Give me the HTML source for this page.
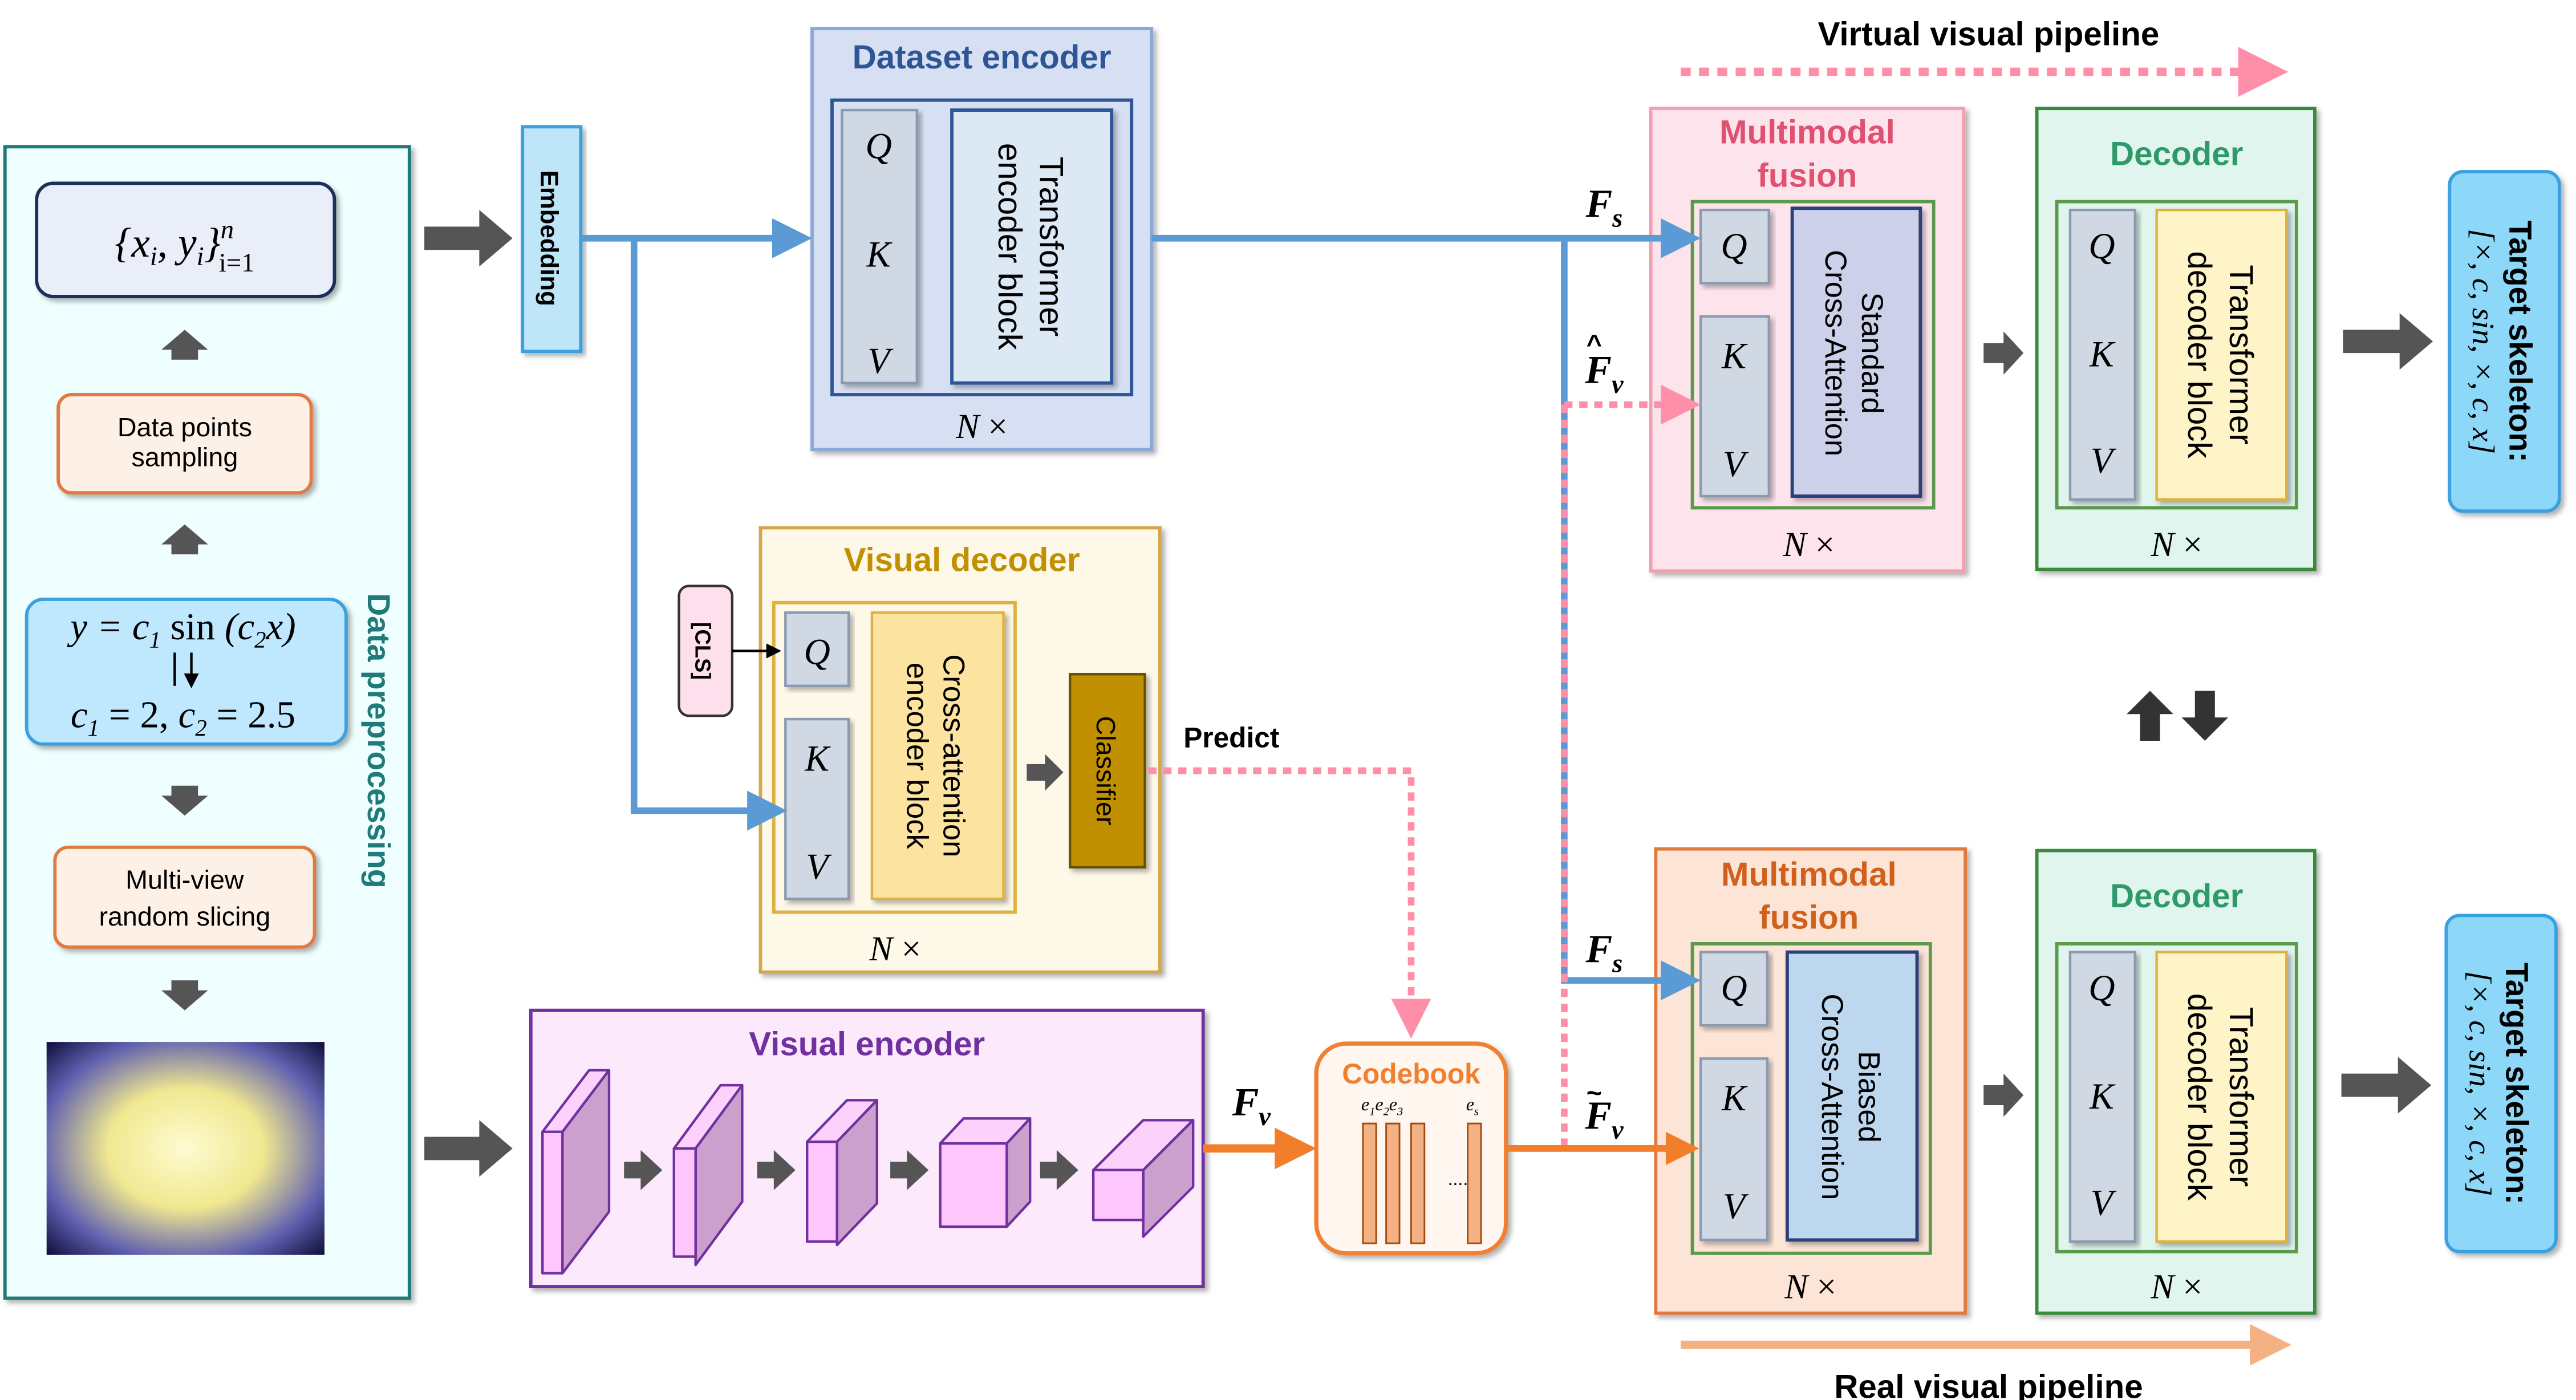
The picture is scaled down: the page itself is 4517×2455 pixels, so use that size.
<!DOCTYPE html>
<html><head><meta charset="utf-8"><style>
html,body{margin:0;padding:0;background:#fff;width:4517px;height:2455px;overflow:hidden}
svg{display:block}
text{font-family:"Liberation Sans",sans-serif}
.b{font-weight:bold}
.m{font-family:"Liberation Serif",serif;font-style:italic}
</style></head><body>
<svg width="4517" height="2455" viewBox="0 0 1548 841" xmlns="http://www.w3.org/2000/svg">
<defs>
<marker id="ab" markerWidth="6" markerHeight="6" refX="5" refY="3" orient="auto" markerUnits="strokeWidth"><path d="M0,0 L6,3 L0,6z" fill="#5b9bd5"/></marker>
<marker id="ap" markerWidth="6" markerHeight="6" refX="5" refY="3" orient="auto" markerUnits="strokeWidth"><path d="M0,0 L6,3 L0,6z" fill="#ff8fa8"/></marker>
<marker id="ao" markerWidth="5" markerHeight="5" refX="4" refY="2.5" orient="auto" markerUnits="strokeWidth"><path d="M0,0 L5,2.5 L0,5z" fill="#f07e2a"/></marker>
<marker id="as" markerWidth="5" markerHeight="5" refX="4" refY="2.5" orient="auto" markerUnits="strokeWidth"><path d="M0,0 L5,2.5 L0,5z" fill="#f4b183"/></marker>
<marker id="ak" markerWidth="6" markerHeight="6" refX="5" refY="3" orient="auto" markerUnits="strokeWidth"><path d="M0,0 L6,3 L0,6z" fill="#000"/></marker>
<radialGradient id="img" cx="50%" cy="50%" r="70%"><stop offset="0" stop-color="#fffbd0"/><stop offset="0.4" stop-color="#f0e890"/><stop offset="0.75" stop-color="#6060b0"/><stop offset="1" stop-color="#101040"/></radialGradient>
<filter id="sh"><feDropShadow dx="2" dy="2" stdDeviation="1.5" flood-opacity="0.3"/></filter>
</defs>

<!-- Data preprocessing -->
<rect x="3" y="88" width="243" height="692" fill="#effefe" stroke="#1f7a78" stroke-width="2" filter="url(#sh)"/>
<rect x="22" y="110" width="179" height="68" rx="10" fill="#e9eef8" stroke="#1f2f5a" stroke-width="2" filter="url(#sh)"/>
<text x="111" y="154" font-size="25" text-anchor="middle" class="m">{x<tspan font-size="16" dy="5">i</tspan><tspan dy="-5">, y</tspan><tspan font-size="16" dy="5">i</tspan><tspan dy="-5">}</tspan><tspan font-size="16" dy="-11">n</tspan><tspan font-size="16" dx="-9" dy="20" font-style="normal">i=1</tspan></text>
<path d="M103,216 v-6 h-6 l14,-12 l14,12 h-6 v6z" fill="#555"/>
<rect x="35" y="237" width="152" height="59" rx="8" fill="#fdf0e6" stroke="#e07a40" stroke-width="2" filter="url(#sh)"/>
<text x="111" y="262" font-size="16" text-anchor="middle">Data points</text>
<text x="111" y="280" font-size="16" text-anchor="middle">sampling</text>
<path d="M103,333 v-6 h-6 l14,-12 l14,12 h-6 v6z" fill="#555"/>
<rect x="16" y="360" width="192" height="87" rx="10" fill="#bfe8ff" stroke="#3aa0e0" stroke-width="2" filter="url(#sh)"/>
<text x="110" y="384" font-size="23" text-anchor="middle" class="m">y = c<tspan font-size="14" dy="5">1</tspan><tspan dy="-5" font-style="normal"> sin </tspan>(c<tspan font-size="14" dy="5">2</tspan><tspan dy="-5">x)</tspan></text>
<path d="M105,392 v20 M115,392 v20" stroke="#000" stroke-width="1.5" marker-end="url(#ak)"/>
<text x="110" y="437" font-size="23" text-anchor="middle" class="m">c<tspan font-size="14" dy="5">1</tspan><tspan dy="-5" font-style="normal"> = 2, </tspan>c<tspan font-size="14" dy="5">2</tspan><tspan dy="-5" font-style="normal"> = 2.5</tspan></text>
<path d="M103,472 v6 h-6 l14,12 l14,-12 h-6 v-6z" fill="#555"/>
<rect x="33" y="509" width="156" height="60" rx="8" fill="#fdf0e6" stroke="#e07a40" stroke-width="2" filter="url(#sh)"/>
<text x="111" y="534" font-size="16" text-anchor="middle">Multi-view</text>
<text x="111" y="556" font-size="16" text-anchor="middle">random slicing</text>
<path d="M103,589 v6 h-6 l14,12 l14,-12 h-6 v-6z" fill="#555"/>
<rect x="28" y="626" width="167" height="128" fill="url(#img)"/>
<text transform="translate(221,445) rotate(90)" font-size="19" text-anchor="middle" class="b" fill="#1f7a78">Data preprocessing</text>

<path d="M255,136 h33 v-10 l20,17 l-20,17 v-10 h-33z" fill="#555"/>
<path d="M255,683 h33 v-10 l20,17 l-20,17 v-10 h-33z" fill="#555"/>

<rect x="314" y="76" width="35" height="135" fill="#bfe6f8" stroke="#3aa0e0" stroke-width="2" filter="url(#sh)"/>
<text transform="translate(325,143) rotate(90)" font-size="15" text-anchor="middle" class="b">Embedding</text>

<!-- Dataset encoder -->
<rect x="488" y="17" width="204" height="253" fill="#d6e0f2" stroke="#8aa8d8" stroke-width="2" filter="url(#sh)"/>
<text x="590" y="41" font-size="20" text-anchor="middle" class="b" fill="#2f5597">Dataset encoder</text>
<rect x="500" y="60" width="180" height="177" fill="none" stroke="#2f5597" stroke-width="2"/>
<rect x="506" y="66" width="45" height="164" fill="#d0d8e4" stroke="#8a9ab0" stroke-width="1.5" filter="url(#sh)"/>
<text x="528" y="95" font-size="22" text-anchor="middle" class="m">Q</text>
<text x="528" y="160" font-size="22" text-anchor="middle" class="m">K</text>
<text x="528" y="224" font-size="22" text-anchor="middle" class="m">V</text>
<rect x="572" y="66" width="96" height="164" fill="#dde8f5" stroke="#2f5597" stroke-width="2" filter="url(#sh)"/>
<text transform="translate(620,148) rotate(90)" font-size="20" text-anchor="middle"><tspan x="0" dy="-5">Transformer</tspan><tspan x="0" dy="25">encoder block</tspan></text>
<text x="590" y="263" font-size="21" text-anchor="middle" class="m">N <tspan font-style="normal">×</tspan></text>

<!-- Visual decoder -->
<rect x="457" y="317" width="240" height="267" fill="#fef8e8" stroke="#d4a84a" stroke-width="2" filter="url(#sh)"/>
<text x="578" y="343" font-size="20" text-anchor="middle" class="b" fill="#c09000">Visual decoder</text>
<rect x="465" y="362" width="145" height="186" fill="none" stroke="#e0b040" stroke-width="2"/>
<rect x="472" y="368" width="38" height="44" fill="#d0d8e4" stroke="#8a9ab0" stroke-width="1.5" filter="url(#sh)"/>
<text x="491" y="399" font-size="22" text-anchor="middle" class="m">Q</text>
<rect x="472" y="432" width="38" height="108" fill="#d0d8e4" stroke="#8a9ab0" stroke-width="1.5" filter="url(#sh)"/>
<text x="491" y="463" font-size="22" text-anchor="middle" class="m">K</text>
<text x="491" y="528" font-size="22" text-anchor="middle" class="m">V</text>
<rect x="524" y="368" width="79" height="172" fill="#fde3a0" stroke="#e0b040" stroke-width="1.5" filter="url(#sh)"/>
<text transform="translate(563,454) rotate(90)" font-size="18" text-anchor="middle"><tspan x="0" dy="-4">Cross-attention</tspan><tspan x="0" dy="22">encoder block</tspan></text>
<text x="538" y="577" font-size="21" text-anchor="middle" class="m">N <tspan font-style="normal">×</tspan></text>
<rect x="408" y="352" width="32" height="78" rx="6" fill="#fde0ec" stroke="#333" stroke-width="1.5"/>
<text transform="translate(418,391) rotate(90)" font-size="13" text-anchor="middle" class="b">[CLS]</text>
<path d="M440,391 H468" stroke="#000" stroke-width="1.5" marker-end="url(#ak)"/>
<path d="M617,459 h11 v-6 l11,11 l-11,11 v-6 h-11z" fill="#555"/>
<rect x="643" y="405" width="45" height="116" fill="#c09000" stroke="#6a5000" stroke-width="1.5" filter="url(#sh)"/>
<text transform="translate(659,463) rotate(90)" font-size="16" text-anchor="middle">Classifier</text>
<text x="740" y="449" font-size="17" text-anchor="middle" class="b">Predict</text>

<!-- Visual encoder -->
<rect x="319" y="607" width="404" height="166" fill="#fde9fc" stroke="#7030a0" stroke-width="2" filter="url(#sh)"/>
<text x="521" y="634" font-size="20" text-anchor="middle" class="b" fill="#7030a0">Visual encoder</text>
<g stroke="#7030a0" stroke-width="1.5" stroke-linejoin="round">
<path d="M326,680 l12,0 l28,-37 l-12,0z" fill="#fcd2fc"/><path d="M338,680 l28,-37 v85 l-28,37z" fill="#cba0cc"/><rect x="326" y="680" width="12" height="85" fill="#fdc6fd"/>
<path d="M405,690 l13,0 l28,-38 l-13,0z" fill="#fcd2fc"/><path d="M418,690 l28,-38 v70 l-28,38z" fill="#cba0cc"/><rect x="405" y="690" width="13" height="65" fill="#fdc6fd"/>
<path d="M485,686 l18,0 l24,-25 l-18,0z" fill="#fcd2fc"/><path d="M503,686 l24,-25 v62 l-24,25z" fill="#cba0cc"/><rect x="485" y="686" width="18" height="60" fill="#fdc6fd"/>
<path d="M565,687 l40,0 l14,-15 l-40,0z" fill="#fcd2fc"/><path d="M605,687 l14,-15 v50 l-14,15z" fill="#cba0cc"/><rect x="565" y="687" width="40" height="50" fill="#fdc6fd"/>
<path d="M657,703 l30,0 l30,-30 l-30,0z" fill="#fcd2fc"/><path d="M687,703 l30,-30 v40 l-30,30z" fill="#cba0cc"/><rect x="657" y="703" width="30" height="30" fill="#fdc6fd"/>
</g>
<path d="M375,698 h10 v-7 l13,12 l-13,12 v-7 h-10z M455,698 h10 v-7 l13,12 l-13,12 v-7 h-10z M535,698 h10 v-7 l13,12 l-13,12 v-7 h-10z M625,698 h10 v-7 l13,12 l-13,12 v-7 h-10z" fill="#555"/>
<text x="752" y="670" font-size="24" class="m b" text-anchor="middle">F<tspan font-size="16" dy="6">v</tspan></text>

<!-- Codebook -->
<rect x="791" y="627" width="114" height="126" rx="18" fill="#fff6f0" stroke="#f08030" stroke-width="2.5" filter="url(#sh)"/>
<text x="848" y="651" font-size="17" text-anchor="middle" class="b" fill="#f08030">Codebook</text>
<text x="818" y="667" font-size="11" class="m">e<tspan font-size="7" dy="3">1</tspan><tspan dy="-3">e</tspan><tspan font-size="7" dy="3">2</tspan><tspan dy="-3">e</tspan><tspan font-size="7" dy="3">3</tspan></text>
<text x="881" y="667" font-size="11" class="m">e<tspan font-size="7" dy="3">s</tspan></text>
<g fill="#f4b183" stroke="#a04a10" stroke-width="1"><rect x="819" y="675" width="8" height="72"/><rect x="833" y="675" width="8" height="72"/><rect x="848" y="675" width="8" height="72"/><rect x="882" y="675" width="8" height="72"/></g>
<text x="870" y="712" font-size="11">....</text>

<text x="964" y="130" font-size="24" class="m b" text-anchor="middle">F<tspan font-size="16" dy="6">s</tspan></text>
<text x="964" y="230" font-size="24" class="m b" text-anchor="middle">F<tspan font-size="16" dy="6">v</tspan></text>
<text x="958" y="212" font-size="16" class="b" text-anchor="middle">^</text>
<text x="964" y="578" font-size="24" class="m b" text-anchor="middle">F<tspan font-size="16" dy="6">s</tspan></text>
<text x="964" y="678" font-size="24" class="m b" text-anchor="middle">F<tspan font-size="16" dy="6">v</tspan></text>
<text x="958" y="662" font-size="16" class="b" text-anchor="middle">~</text>

<text x="1195" y="27" font-size="20" text-anchor="middle" class="b">Virtual visual pipeline</text>
<path d="M1010,43 H1370" stroke="#ff8fa8" stroke-width="5" stroke-dasharray="6,5" marker-end="url(#ap)"/>
<text x="1195" y="840" font-size="20" text-anchor="middle" class="b">Real visual pipeline</text>
<path d="M1010,808 H1372" stroke="#f4b183" stroke-width="5" marker-end="url(#as)"/>

<!-- Multimodal fusion top -->
<rect x="992" y="65" width="188" height="278" fill="#fde4ec" stroke="#f0a0b0" stroke-width="2" filter="url(#sh)"/>
<text x="1086" y="86" font-size="20" text-anchor="middle" class="b" fill="#e05070">Multimodal</text>
<text x="1086" y="112" font-size="20" text-anchor="middle" class="b" fill="#e05070">fusion</text>
<rect x="1017" y="121" width="145" height="184" fill="none" stroke="#5a9a4a" stroke-width="2"/>
<rect x="1022" y="126" width="41" height="44" fill="#d0d8e4" stroke="#8a9ab0" stroke-width="1.5" filter="url(#sh)"/>
<text x="1042" y="155" font-size="22" text-anchor="middle" class="m">Q</text>
<rect x="1022" y="190" width="41" height="108" fill="#d0d8e4" stroke="#8a9ab0" stroke-width="1.5" filter="url(#sh)"/>
<text x="1042" y="221" font-size="22" text-anchor="middle" class="m">K</text>
<text x="1042" y="286" font-size="22" text-anchor="middle" class="m">V</text>
<rect x="1077" y="125" width="77" height="173" fill="#ccd0e8" stroke="#2f3f7a" stroke-width="2" filter="url(#sh)"/>
<text transform="translate(1115,212) rotate(90)" font-size="18" text-anchor="middle"><tspan x="0" dy="-4">Standard</tspan><tspan x="0" dy="22">Cross-Attention</tspan></text>
<text x="1087" y="334" font-size="21" text-anchor="middle" class="m">N <tspan font-style="normal">×</tspan></text>

<!-- Multimodal fusion bottom -->
<rect x="995" y="510" width="186" height="279" fill="#fce4d6" stroke="#e07a40" stroke-width="2" filter="url(#sh)"/>
<text x="1087" y="532" font-size="20" text-anchor="middle" class="b" fill="#d0601c">Multimodal</text>
<text x="1087" y="558" font-size="20" text-anchor="middle" class="b" fill="#d0601c">fusion</text>
<rect x="1017" y="567" width="143" height="186" fill="none" stroke="#5a9a4a" stroke-width="2"/>
<rect x="1022" y="572" width="40" height="44" fill="#d0d8e4" stroke="#8a9ab0" stroke-width="1.5" filter="url(#sh)"/>
<text x="1042" y="601" font-size="22" text-anchor="middle" class="m">Q</text>
<rect x="1022" y="636" width="40" height="109" fill="#d0d8e4" stroke="#8a9ab0" stroke-width="1.5" filter="url(#sh)"/>
<text x="1042" y="667" font-size="22" text-anchor="middle" class="m">K</text>
<text x="1042" y="732" font-size="22" text-anchor="middle" class="m">V</text>
<rect x="1074" y="572" width="78" height="173" fill="#bdd7ee" stroke="#2f3f7a" stroke-width="2" filter="url(#sh)"/>
<text transform="translate(1113,659) rotate(90)" font-size="18" text-anchor="middle"><tspan x="0" dy="-4">Biased</tspan><tspan x="0" dy="22">Cross-Attention</tspan></text>
<text x="1088" y="780" font-size="21" text-anchor="middle" class="m">N <tspan font-style="normal">×</tspan></text>

<path d="M1192,206 h12 v-7 l12,13 l-12,13 v-7 h-12z" fill="#555"/>
<path d="M1192,652 h12 v-7 l12,13 l-12,13 v-7 h-12z" fill="#555"/>

<!-- Decoders -->
<g>
<rect x="1224" y="65" width="167" height="277" fill="#e0f5ee" stroke="#3a8a3a" stroke-width="2" filter="url(#sh)"/>
<text x="1308" y="99" font-size="20" text-anchor="middle" class="b" fill="#2e9a6a">Decoder</text>
<rect x="1236" y="121" width="144" height="184" fill="none" stroke="#5a9a4a" stroke-width="2"/>
<rect x="1244" y="126" width="39" height="174" fill="#d0d8e4" stroke="#8a9ab0" stroke-width="1.5" filter="url(#sh)"/>
<text x="1263" y="155" font-size="22" text-anchor="middle" class="m">Q</text>
<text x="1263" y="220" font-size="22" text-anchor="middle" class="m">K</text>
<text x="1263" y="284" font-size="22" text-anchor="middle" class="m">V</text>
<rect x="1296" y="126" width="78" height="174" fill="#fff3c8" stroke="#e0b040" stroke-width="1.5" filter="url(#sh)"/>
<text transform="translate(1335,213) rotate(90)" font-size="20" text-anchor="middle"><tspan x="0" dy="-5">Transformer</tspan><tspan x="0" dy="25">decoder block</tspan></text>
<text x="1308" y="334" font-size="21" text-anchor="middle" class="m">N <tspan font-style="normal">×</tspan></text>
</g>
<g transform="translate(0,446)">
<rect x="1224" y="65" width="167" height="278" fill="#e0f5ee" stroke="#3a8a3a" stroke-width="2" filter="url(#sh)"/>
<text x="1308" y="99" font-size="20" text-anchor="middle" class="b" fill="#2e9a6a">Decoder</text>
<rect x="1236" y="121" width="144" height="185" fill="none" stroke="#5a9a4a" stroke-width="2"/>
<rect x="1244" y="126" width="39" height="174" fill="#d0d8e4" stroke="#8a9ab0" stroke-width="1.5" filter="url(#sh)"/>
<text x="1263" y="155" font-size="22" text-anchor="middle" class="m">Q</text>
<text x="1263" y="220" font-size="22" text-anchor="middle" class="m">K</text>
<text x="1263" y="284" font-size="22" text-anchor="middle" class="m">V</text>
<rect x="1296" y="126" width="78" height="174" fill="#fff3c8" stroke="#e0b040" stroke-width="1.5" filter="url(#sh)"/>
<text transform="translate(1335,213) rotate(90)" font-size="20" text-anchor="middle"><tspan x="0" dy="-5">Transformer</tspan><tspan x="0" dy="25">decoder block</tspan></text>
<text x="1308" y="334" font-size="21" text-anchor="middle" class="m">N <tspan font-style="normal">×</tspan></text>
</g>

<path d="M1286,445 v-16 h-8 l14,-14 l14,14 h-8 v16z" fill="#333"/>
<path d="M1319,415 v16 h-8 l14,14 l14,-14 h-8 v-16z" fill="#333"/>

<path d="M1408,198 h34 v-10 l20,17 l-20,17 v-10 h-34z" fill="#555"/>
<path d="M1407,645 h34 v-10 l20,17 l-20,17 v-10 h-34z" fill="#555"/>

<rect x="1472" y="103" width="66" height="204" rx="8" fill="#8dd8f8" stroke="#3aa0e0" stroke-width="2" filter="url(#sh)"/>
<text transform="translate(1505,205) rotate(90)" font-size="19" text-anchor="middle"><tspan x="0" dy="-3" class="b">Target skeleton:</tspan><tspan x="0" dy="22" class="m">[×, c, sin, ×, c, x]</tspan></text>
<rect x="1470" y="550" width="66" height="202" rx="8" fill="#8dd8f8" stroke="#3aa0e0" stroke-width="2" filter="url(#sh)"/>
<text transform="translate(1503,651) rotate(90)" font-size="19" text-anchor="middle"><tspan x="0" dy="-3" class="b">Target skeleton:</tspan><tspan x="0" dy="22" class="m">[×, c, sin, ×, c, x]</tspan></text>

<!-- connectors on top -->
<path d="M349,143 H484" stroke="#5b9bd5" stroke-width="4" fill="none" marker-end="url(#ab)"/>
<path d="M381,143 V487 H469" stroke="#5b9bd5" stroke-width="4" fill="none" marker-end="url(#ab)"/>
<path d="M692,143 H1018" stroke="#5b9bd5" stroke-width="4" fill="none" marker-end="url(#ab)"/>
<path d="M940,143 V589 H1018" stroke="#5b9bd5" stroke-width="4" fill="none" marker-end="url(#ab)"/>
<path d="M690,463 H848 V620" stroke="#ff8fa8" stroke-width="4" stroke-dasharray="5,4" fill="none" marker-end="url(#ap)"/>
<path d="M940,243 H1018" stroke="#ff8fa8" stroke-width="4" stroke-dasharray="5,4" fill="none" marker-end="url(#ap)"/>
<path d="M940,243 V690" stroke="#ff8fa8" stroke-width="4" stroke-dasharray="5,4" fill="none"/>
<path d="M905,690 H1017" stroke="#f07e2a" stroke-width="4" marker-end="url(#ao)"/>
<path d="M723,690 H786" stroke="#f07e2a" stroke-width="5" marker-end="url(#ao)"/>
</svg>
</body></html>
